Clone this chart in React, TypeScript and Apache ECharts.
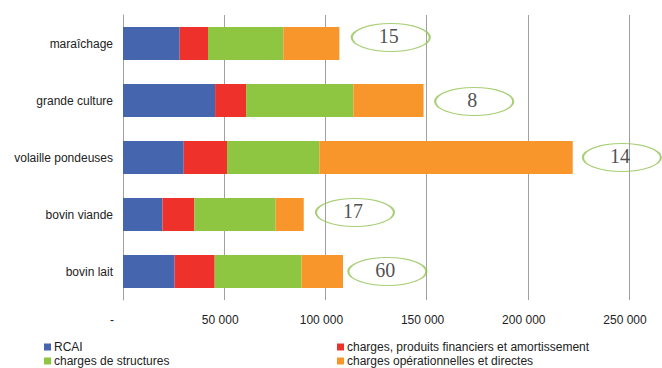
import React, { useEffect, useRef } from "react";
import * as echarts from "echarts";

// Farm types, top to bottom
const categories = ["maraîchage", "grande culture", "volaille pondeuses", "bovin viande", "bovin lait"];

// Stacked components (€)
const rcai = [28000, 45500, 30000, 19500, 25500];
const chargesFinancieres = [14000, 15300, 21400, 15800, 19800];
const chargesStructures = [37200, 53000, 45600, 40100, 42900];
const chargesOperationnelles = [27700, 34700, 125200, 13900, 20500];

// Circled counts placed to the right of each bar
const counts = [15, 8, 14, 17, 60];
const countPositions = [132300, 173500, 246500, 114600, 130600];
const countOffsets = [-6, 1, 0, -2, 0];

const xTicks = [0, 50000, 100000, 150000, 200000, 250000];

const SANS = "'Liberation Sans', Arial, sans-serif";
const SERIF = "'Liberation Serif', 'Times New Roman', serif";
const ELLIPSE = "path://M0,50 A50,50 0 1,1 100,50 A50,50 0 1,1 0,50 Z";

const fmt = (v: number) =>
  v === 0 ? "{d|-}" : String(v).replace(/\B(?=(\d{3})+(?!\d))/g, " ");

export default function App() {
  const ref = useRef<HTMLDivElement>(null);

  useEffect(() => {
    if (!ref.current) return;
    const chart = echarts.init(ref.current, undefined, { renderer: "svg" });
    const barBase = { type: "bar", stack: "total", barWidth: 33 } as const;

    chart.setOption({
      animation: false,
      backgroundColor: "#fff",
      textStyle: { fontFamily: SANS },
      grid: { left: 123, right: 33, top: 15, bottom: 68, containLabel: false },
      legend: [
        {
          left: 44,
          top: 340,
          orient: "vertical",
          padding: 0,
          itemGap: 0,
          itemWidth: 7,
          itemHeight: 7,
          icon: "rect",
          data: ["RCAI", "charges de structures"],
          textStyle: { fontSize: 12, lineHeight: 14, color: "#222", fontFamily: SANS, padding: [0, 0, 0, -2] },
        },
        {
          left: 337,
          top: 340,
          orient: "vertical",
          padding: 0,
          itemGap: 0,
          itemWidth: 7,
          itemHeight: 7,
          icon: "rect",
          data: ["charges, produits financiers et amortissement", "charges opérationnelles et directes"],
          textStyle: { fontSize: 12, lineHeight: 14, color: "#222", fontFamily: SANS, padding: [0, 0, 0, -2] },
        },
      ],
      xAxis: {
        type: "value",
        min: xTicks[0],
        max: xTicks[xTicks.length - 1],
        interval: xTicks[1] - xTicks[0],
        axisLine: { show: false },
        axisTick: { show: false },
        splitLine: { lineStyle: { color: "#a0a0a0", width: 1 } },
        axisLabel: {
          formatter: fmt,
          margin: 14,
          fontSize: 12,
          color: "#222",
          fontFamily: SANS,
          padding: [0, 8, 0, 0],
          rich: { d: { fontSize: 12, color: "#222", fontFamily: SANS, padding: [0, 14, 0, 0] } },
        },
      },
      yAxis: {
        type: "category",
        data: categories,
        inverse: true,
        axisLine: { show: true, lineStyle: { color: "#a0a0a0", width: 1 } },
        axisTick: { show: false },
        axisLabel: { margin: 10, fontSize: 12, color: "#222", fontFamily: SANS },
      },
      series: [
        { ...barBase, name: "RCAI", data: rcai, itemStyle: { color: "#4565AE" } },
        { ...barBase, name: "charges, produits financiers et amortissement", data: chargesFinancieres, itemStyle: { color: "#EE322B" } },
        { ...barBase, name: "charges de structures", data: chargesStructures, itemStyle: { color: "#8FC641" } },
        { ...barBase, name: "charges opérationnelles et directes", data: chargesOperationnelles, itemStyle: { color: "#F8962B" } },
        {
          type: "scatter",
          name: "effectifs",
          symbol: ELLIPSE,
          symbolKeepAspect: false,
          symbolSize: [78, 28],
          z: 5,
          itemStyle: { color: "rgba(0,0,0,0)", borderColor: "#92C353", borderWidth: 1.3 },
          label: {
            show: true,
            position: "inside",
            offset: [-2, -2],
            fontFamily: SERIF,
            fontSize: 20,
            color: "#222",
            formatter: (p: any) => String(p.data.count),
          },
          data: counts.map((c, i) => ({
            value: [countPositions[i], categories[i]],
            count: c,
            symbolOffset: [0, countOffsets[i]],
          })),
        },
      ],
    });

    return () => chart.dispose();
  }, []);

  return (
    <div
      ref={ref}
      style={{ position: "fixed", left: 0, top: 0, width: 662, height: 368, background: "#fff" }}
    />
  );
}
